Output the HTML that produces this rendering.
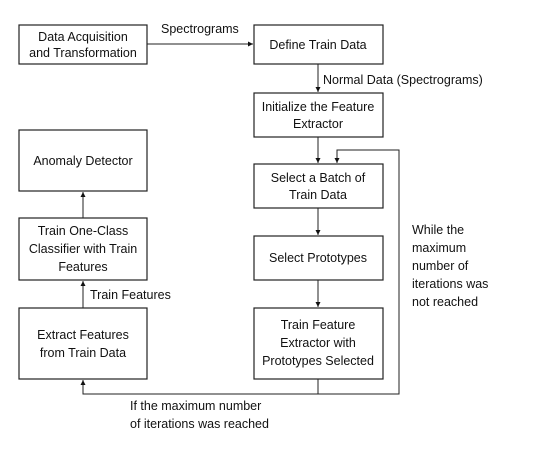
<!DOCTYPE html>
<html><head><style>
body{margin:0;background:#fff;}
svg text{font-family:"Liberation Sans",sans-serif;font-size:12.5px;fill:#111;}
</style></head><body>
<svg width="551" height="448" viewBox="0 0 551 448" xmlns="http://www.w3.org/2000/svg">
<defs><marker id="a" markerWidth="6" markerHeight="6" refX="5" refY="3" orient="auto" markerUnits="userSpaceOnUse"><path d="M0,0.5 L5,3 L0,5.5 Z" fill="#111"/></marker></defs>
<g fill="#fff" stroke="#222" stroke-width="1.2">
<rect x="19" y="25" width="128" height="39"/>
<rect x="254" y="25" width="129" height="39"/>
<rect x="254" y="93" width="129" height="44"/>
<rect x="19" y="130" width="128" height="61"/>
<rect x="254" y="164" width="129" height="44"/>
<rect x="19" y="218" width="128" height="62"/>
<rect x="254" y="236" width="129" height="44"/>
<rect x="19" y="308" width="128" height="71"/>
<rect x="254" y="308" width="129" height="71"/>
</g>
<g stroke="#222" stroke-width="1" fill="none">
<line x1="147" y1="44" x2="253" y2="44" marker-end="url(#a)"/>
<line x1="318" y1="64" x2="318" y2="92" marker-end="url(#a)"/>
<line x1="318" y1="137" x2="318" y2="163" marker-end="url(#a)"/>
<line x1="318" y1="208" x2="318" y2="235" marker-end="url(#a)"/>
<line x1="318" y1="280" x2="318" y2="307" marker-end="url(#a)"/>
<polyline points="318,379 318,394 399,394 399,150 337,150 337,163" marker-end="url(#a)"/>
<polyline points="318,394 83,394 83,380" marker-end="url(#a)"/>
<line x1="83" y1="308" x2="83" y2="281" marker-end="url(#a)"/>
<line x1="83" y1="218" x2="83" y2="192" marker-end="url(#a)"/>
</g>
<g text-anchor="middle">
<text x="83" y="41">Data Acquisition</text>
<text x="83" y="57">and Transformation</text>
<text x="318" y="49">Define Train Data</text>
<text x="318" y="111">Initialize the Feature</text>
<text x="318" y="128">Extractor</text>
<text x="83" y="165">Anomaly Detector</text>
<text x="318" y="182">Select a Batch of</text>
<text x="318" y="199">Train Data</text>
<text x="83" y="235">Train One-Class</text>
<text x="83" y="253">Classifier with Train</text>
<text x="83" y="271">Features</text>
<text x="318" y="262">Select Prototypes</text>
<text x="83" y="339">Extract Features</text>
<text x="83" y="357">from Train Data</text>
<text x="318" y="329">Train Feature</text>
<text x="318" y="347">Extractor with</text>
<text x="318" y="365">Prototypes Selected</text>
</g>
<text x="161" y="33">Spectrograms</text>
<text x="323" y="84">Normal Data (Spectrograms)</text>
<text x="90" y="299">Train Features</text>
<text x="412" y="234">While the</text>
<text x="412" y="252">maximum</text>
<text x="412" y="270">number of</text>
<text x="412" y="288">iterations was</text>
<text x="412" y="306">not reached</text>
<text x="130" y="410">If the maximum number</text>
<text x="130" y="428">of  iterations was reached</text>
</svg>
</body></html>
